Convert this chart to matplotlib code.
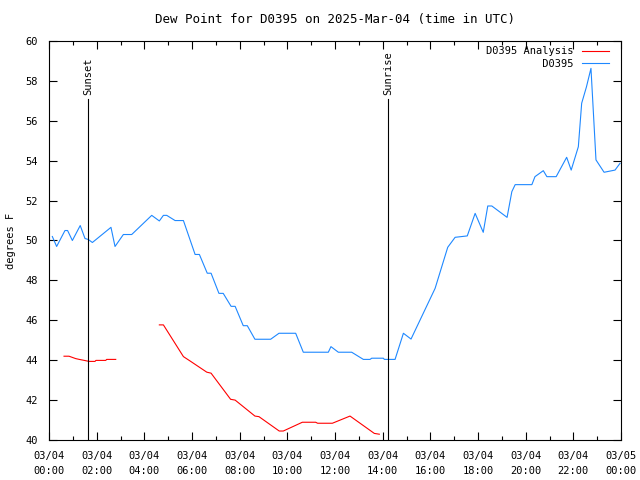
import numpy as np
import matplotlib
matplotlib.use("Agg")
import matplotlib.pyplot as plt

# hours after 2025-03-04 00:00 UTC
obs_hours = [0.14, 0.32, 0.67, 0.78, 0.98, 1.31, 1.51, 1.65, 1.82, 2.60, 2.77, 3.12, 3.47,
             4.31, 4.63, 4.80, 4.94, 5.29, 5.64, 6.13, 6.31, 6.64, 6.80, 7.13, 7.31, 7.64,
             7.81, 8.15, 8.32, 8.64, 9.30, 9.65, 10.35, 10.67, 11.72, 11.83, 12.14, 12.70,
             13.19, 13.47, 13.54, 14.03, 14.07, 14.52, 14.87, 15.19, 16.20, 16.73, 17.04,
             17.55, 17.88, 18.22, 18.41, 18.58, 19.22, 19.42, 19.56, 20.26, 20.39, 20.74,
             20.89, 21.28, 21.72, 21.91, 22.21, 22.35, 22.55, 22.74, 22.95, 23.29, 23.75, 23.96]
obs_dewpt = [50.2, 49.7, 50.5, 50.5, 50.0, 50.75, 50.1, 50.05, 49.9, 50.66, 49.7, 50.3, 50.3,
             51.26, 50.98, 51.26, 51.26, 51.0, 51.0, 49.3, 49.3, 48.36, 48.36, 47.35, 47.35, 46.7,
             46.7, 45.73, 45.73, 45.05, 45.05, 45.35, 45.35, 44.4, 44.4, 44.68, 44.4, 44.4,
             44.04, 44.04, 44.1, 44.1, 44.04, 44.04, 45.35, 45.06, 47.6, 49.66, 50.16,
             50.23, 51.36, 50.41, 51.73, 51.73, 51.16, 52.45, 52.8, 52.8, 53.2, 53.5,
             53.2, 53.2, 54.17, 53.53, 54.7, 56.88, 57.7, 58.63, 54.04, 53.42, 53.53, 53.87]

ana_hours = [0.63, 0.84, 1.12, 1.27, 1.48, 1.68, 1.93, 1.97, 2.38, 2.42, 2.80, 3.70,
             4.63, 4.80, 5.64, 5.92, 6.62, 6.80, 7.62, 7.81, 8.64, 8.81, 9.66, 9.83,
             10.63, 11.19, 11.27, 11.89, 12.63, 13.65, 13.86]
ana_dewpt = [44.2, 44.2, 44.08, 44.04, 43.99, 43.94, 43.94, 43.99, 43.99, 44.04, 44.04, np.nan,
             45.77, 45.77, 44.18, 43.96, 43.4, 43.35, 42.04, 42.0, 41.2, 41.17, 40.45, 40.45,
             40.89, 40.89, 40.84, 40.84, 41.2, 40.33, 40.29]

sunset = 1.64
sunrise = 14.23

xtick_hours = list(range(0, 25, 2))
xtick_labels = ["03/04\n%02d:00" % h for h in range(0, 24, 2)] + ["03/05\n00:00"]

plt.rcParams["font.family"] = ["DejaVu Sans Mono"]
plt.rcParams["font.size"] = 7.5

fig = plt.figure(figsize=(6.4, 4.8), dpi=100)
ax = fig.add_axes([49 / 640, 40 / 480, 572 / 640, 399 / 480])

ax.plot(ana_hours, ana_dewpt, color="#ff0000", lw=0.8, label="D0395 Analysis")
ax.plot(obs_hours, obs_dewpt, color="#1e88ff", lw=0.8, label="         D0395")

# sunset / sunrise markers
for t, name in [(sunset, "Sunset"), (sunrise, "Sunrise")]:
    ax.plot([t, t], [40, 57.1], color="black", lw=0.8)
    ax.text(t, 57.3, name, rotation=90, ha="center", va="bottom")

ax.set_xlim(0, 24)
ax.set_ylim(40, 60)
ax.set_xticks(xtick_hours)
ax.set_xticklabels(xtick_labels, linespacing=1.6)
ax.set_xticks(range(1, 24, 2), minor=True)
ax.set_yticks(range(40, 61, 2))
ax.tick_params(which="both", direction="in", top=True, right=True, width=0.8)
ax.tick_params(which="major", length=6)
ax.tick_params(axis="x", which="major", pad=8)
ax.tick_params(axis="y", which="major", pad=8)
ax.tick_params(which="minor", length=3)
for s in ax.spines.values():
    s.set_linewidth(0.8)

ax.set_title("Dew Point for D0395 on 2025-Mar-04 (time in UTC)", pad=13)
ax.set_ylabel("degrees F", labelpad=7)

ax.legend(loc="upper right", bbox_to_anchor=(1 - 7 / 572, 1), frameon=False,
          markerfirst=False, handlelength=2.6, handletextpad=0.8, labelspacing=0.25,
          borderaxespad=0.3, borderpad=0.2)

fig.savefig("out.png", dpi=100)
